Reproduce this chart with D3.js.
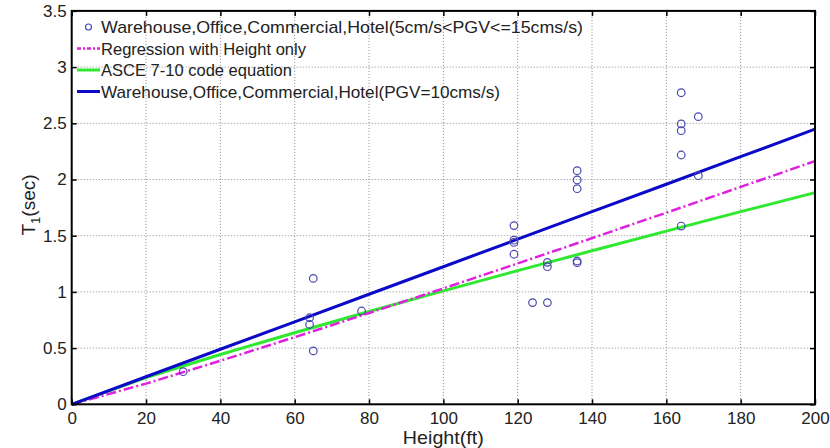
<!DOCTYPE html>
<html>
<head>
<meta charset="utf-8">
<script src="https://cdn.jsdelivr.net/npm/d3@7/dist/d3.min.js"></script>
<style>
  html, body { margin: 0; padding: 0; background: #fff; }
  svg { display: block; }
  text { font-family: "Liberation Sans", Arial, sans-serif; fill: #222; }
</style>
</head>
<body>
<svg id="chart" width="830" height="448"></svg>
<script>
// ---- Data ----
const xTicks = [0, 20, 40, 60, 80, 100, 120, 140, 160, 180, 200];
const yTicks = [0, 0.5, 1, 1.5, 2, 2.5, 3, 3.5];

// Observed buildings: height (ft), period T1 (sec)
const obsHeight = [30, 64, 64, 65, 65, 78, 119, 119, 119, 119, 124, 128, 128, 128,
                   136, 136, 136, 136, 136, 164, 164, 164, 164, 164, 168.6, 168.6];
const obsPeriod = [0.29, 0.77, 0.71, 1.12, 0.475, 0.83, 1.59, 1.46, 1.44, 1.335, 0.905, 1.263, 1.224, 0.905,
                   2.078, 1.996, 1.918, 1.275, 1.26, 2.772, 2.494, 2.434, 2.218, 1.586, 2.559, 2.034];

// Curves sampled at these heights
const curveHeight = [0, 20, 40, 60, 80, 100, 120, 140, 160, 180, 200];
const regressionT = [0, 0.184, 0.387, 0.597, 0.812, 1.031, 1.253, 1.478, 1.705, 1.934, 2.164];
const asceT       = [0, 0.237, 0.443, 0.637, 0.826, 1.009, 1.189, 1.366, 1.541, 1.714, 1.883];
const pgvT        = [0, 0.245, 0.49, 0.734, 0.979, 1.224, 1.469, 1.714, 1.958, 2.203, 2.448];

const legendLabels = [
  "Warehouse,Office,Commercial,Hotel(5cm/s<PGV<=15cms/s)",
  "Regression with Height only",
  "ASCE 7-10 code equation",
  "Warehouse,Office,Commercial,Hotel(PGV=10cms/s)"
];

// ---- Layout ----
const svg = d3.select("#chart");
const L = 71.7, R = 815, T = 10.9, B = 404.3;
const x = d3.scaleLinear().domain([0, 200]).range([L, R]);
const y = d3.scaleLinear().domain([0, 3.5]).range([B, T]);

// grid
const grid = svg.append("g");
grid.selectAll("line.gx").data(xTicks.slice(1, -1)).join("line")
  .attr("x1", d => x(d)).attr("x2", d => x(d)).attr("y1", T).attr("y2", B)
  .attr("stroke", "#8a8a8a").attr("stroke-width", 1).attr("stroke-dasharray", "1,2");
grid.selectAll("line.gy").data(yTicks.slice(1, -1)).join("line")
  .attr("y1", d => y(d)).attr("y2", d => y(d)).attr("x1", L).attr("x2", R)
  .attr("stroke", "#8a8a8a").attr("stroke-width", 1).attr("stroke-dasharray", "1,2");

// curves
const mk = ys => d3.line().x((d, i) => x(curveHeight[i])).y(d => y(d))(ys);
svg.append("path").attr("d", mk(asceT)).attr("fill", "none")
  .attr("stroke", "#2fe82f").attr("stroke-width", 3);
svg.append("path").attr("d", mk(regressionT)).attr("fill", "none")
  .attr("stroke", "#e020e0").attr("stroke-width", 2.5).attr("stroke-dasharray", "10,3,2,3");
svg.append("path").attr("d", mk(pgvT)).attr("fill", "none")
  .attr("stroke", "#0a0ac8").attr("stroke-width", 3);

// points
svg.append("g").selectAll("circle").data(obsHeight).join("circle")
  .attr("cx", d => x(d)).attr("cy", (d, i) => y(obsPeriod[i])).attr("r", 3.8)
  .attr("fill", "none").attr("stroke", "#4848b0").attr("stroke-width", 1.2);

// axes (box with inward ticks)
const ax = svg.append("g");
const xb = d3.axisBottom(x).tickValues(xTicks).tickSizeInner(-5).tickSizeOuter(0).tickPadding(8);
const xt = d3.axisTop(x).tickValues(xTicks).tickSizeInner(-5).tickSizeOuter(0).tickFormat("");
const yl = d3.axisLeft(y).tickValues(yTicks).tickSizeInner(-5).tickSizeOuter(0).tickPadding(5)
  .tickFormat(d => d3.format("")(d));
const yr = d3.axisRight(y).tickValues(yTicks).tickSizeInner(-5).tickSizeOuter(0).tickFormat("");
ax.append("g").attr("transform", `translate(0,${B})`).call(xb);
ax.append("g").attr("transform", `translate(0,${T})`).call(xt);
ax.append("g").attr("transform", `translate(${L},0)`).call(yl);
ax.append("g").attr("transform", `translate(${R},0)`).call(yr);
ax.selectAll(".domain").remove();
ax.selectAll(".tick line").attr("stroke", "#000").attr("stroke-width", 1.5);
ax.selectAll(".tick text").attr("font-size", 17).attr("fill", "#222")
  .attr("font-family", '"Liberation Sans", Arial, sans-serif');
svg.append("rect").attr("x", L).attr("y", T).attr("width", R - L).attr("height", B - T)
  .attr("fill", "none").attr("stroke", "#000").attr("stroke-width", 2);

// axis labels
svg.append("text").attr("x", (L + R) / 2).attr("y", 444).attr("text-anchor", "middle")
  .attr("font-size", 19).attr("textLength", 81).attr("lengthAdjust", "spacingAndGlyphs")
  .text("Height(ft)");
const yt = svg.append("text").attr("transform", "translate(35,205) rotate(-90)")
  .attr("text-anchor", "middle").attr("font-size", 19);
yt.append("tspan").text("T");
yt.append("tspan").attr("font-size", 13).attr("dy", 5).text("1");
yt.append("tspan").attr("dy", -5).text("(sec)");

// legend
const lg = svg.append("g");
const rows = [27, 48.5, 70, 91.5];
const widths = [482, 205, 191, 399];
const lx0 = 77, lx1 = 100, tx = 101;
lg.append("circle").attr("cx", (lx0 + lx1) / 2).attr("cy", rows[0]).attr("r", 3)
  .attr("fill", "none").attr("stroke", "#4848b0").attr("stroke-width", 1.2);
lg.append("line").attr("x1", lx0).attr("x2", lx1).attr("y1", rows[1]).attr("y2", rows[1])
  .attr("stroke", "#e020e0").attr("stroke-width", 2.5).attr("stroke-dasharray", "4,2,2,2");
lg.append("line").attr("x1", lx0).attr("x2", lx1).attr("y1", rows[2]).attr("y2", rows[2])
  .attr("stroke", "#2fe82f").attr("stroke-width", 3);
lg.append("line").attr("x1", lx0).attr("x2", lx1).attr("y1", rows[3]).attr("y2", rows[3])
  .attr("stroke", "#0a0ac8").attr("stroke-width", 3);
lg.selectAll("text").data(legendLabels).join("text")
  .attr("x", tx).attr("y", (d, i) => rows[i] + 6).attr("font-size", 17)
  .attr("textLength", (d, i) => widths[i]).attr("lengthAdjust", "spacingAndGlyphs")
  .text(d => d);
</script>
</body>
</html>
